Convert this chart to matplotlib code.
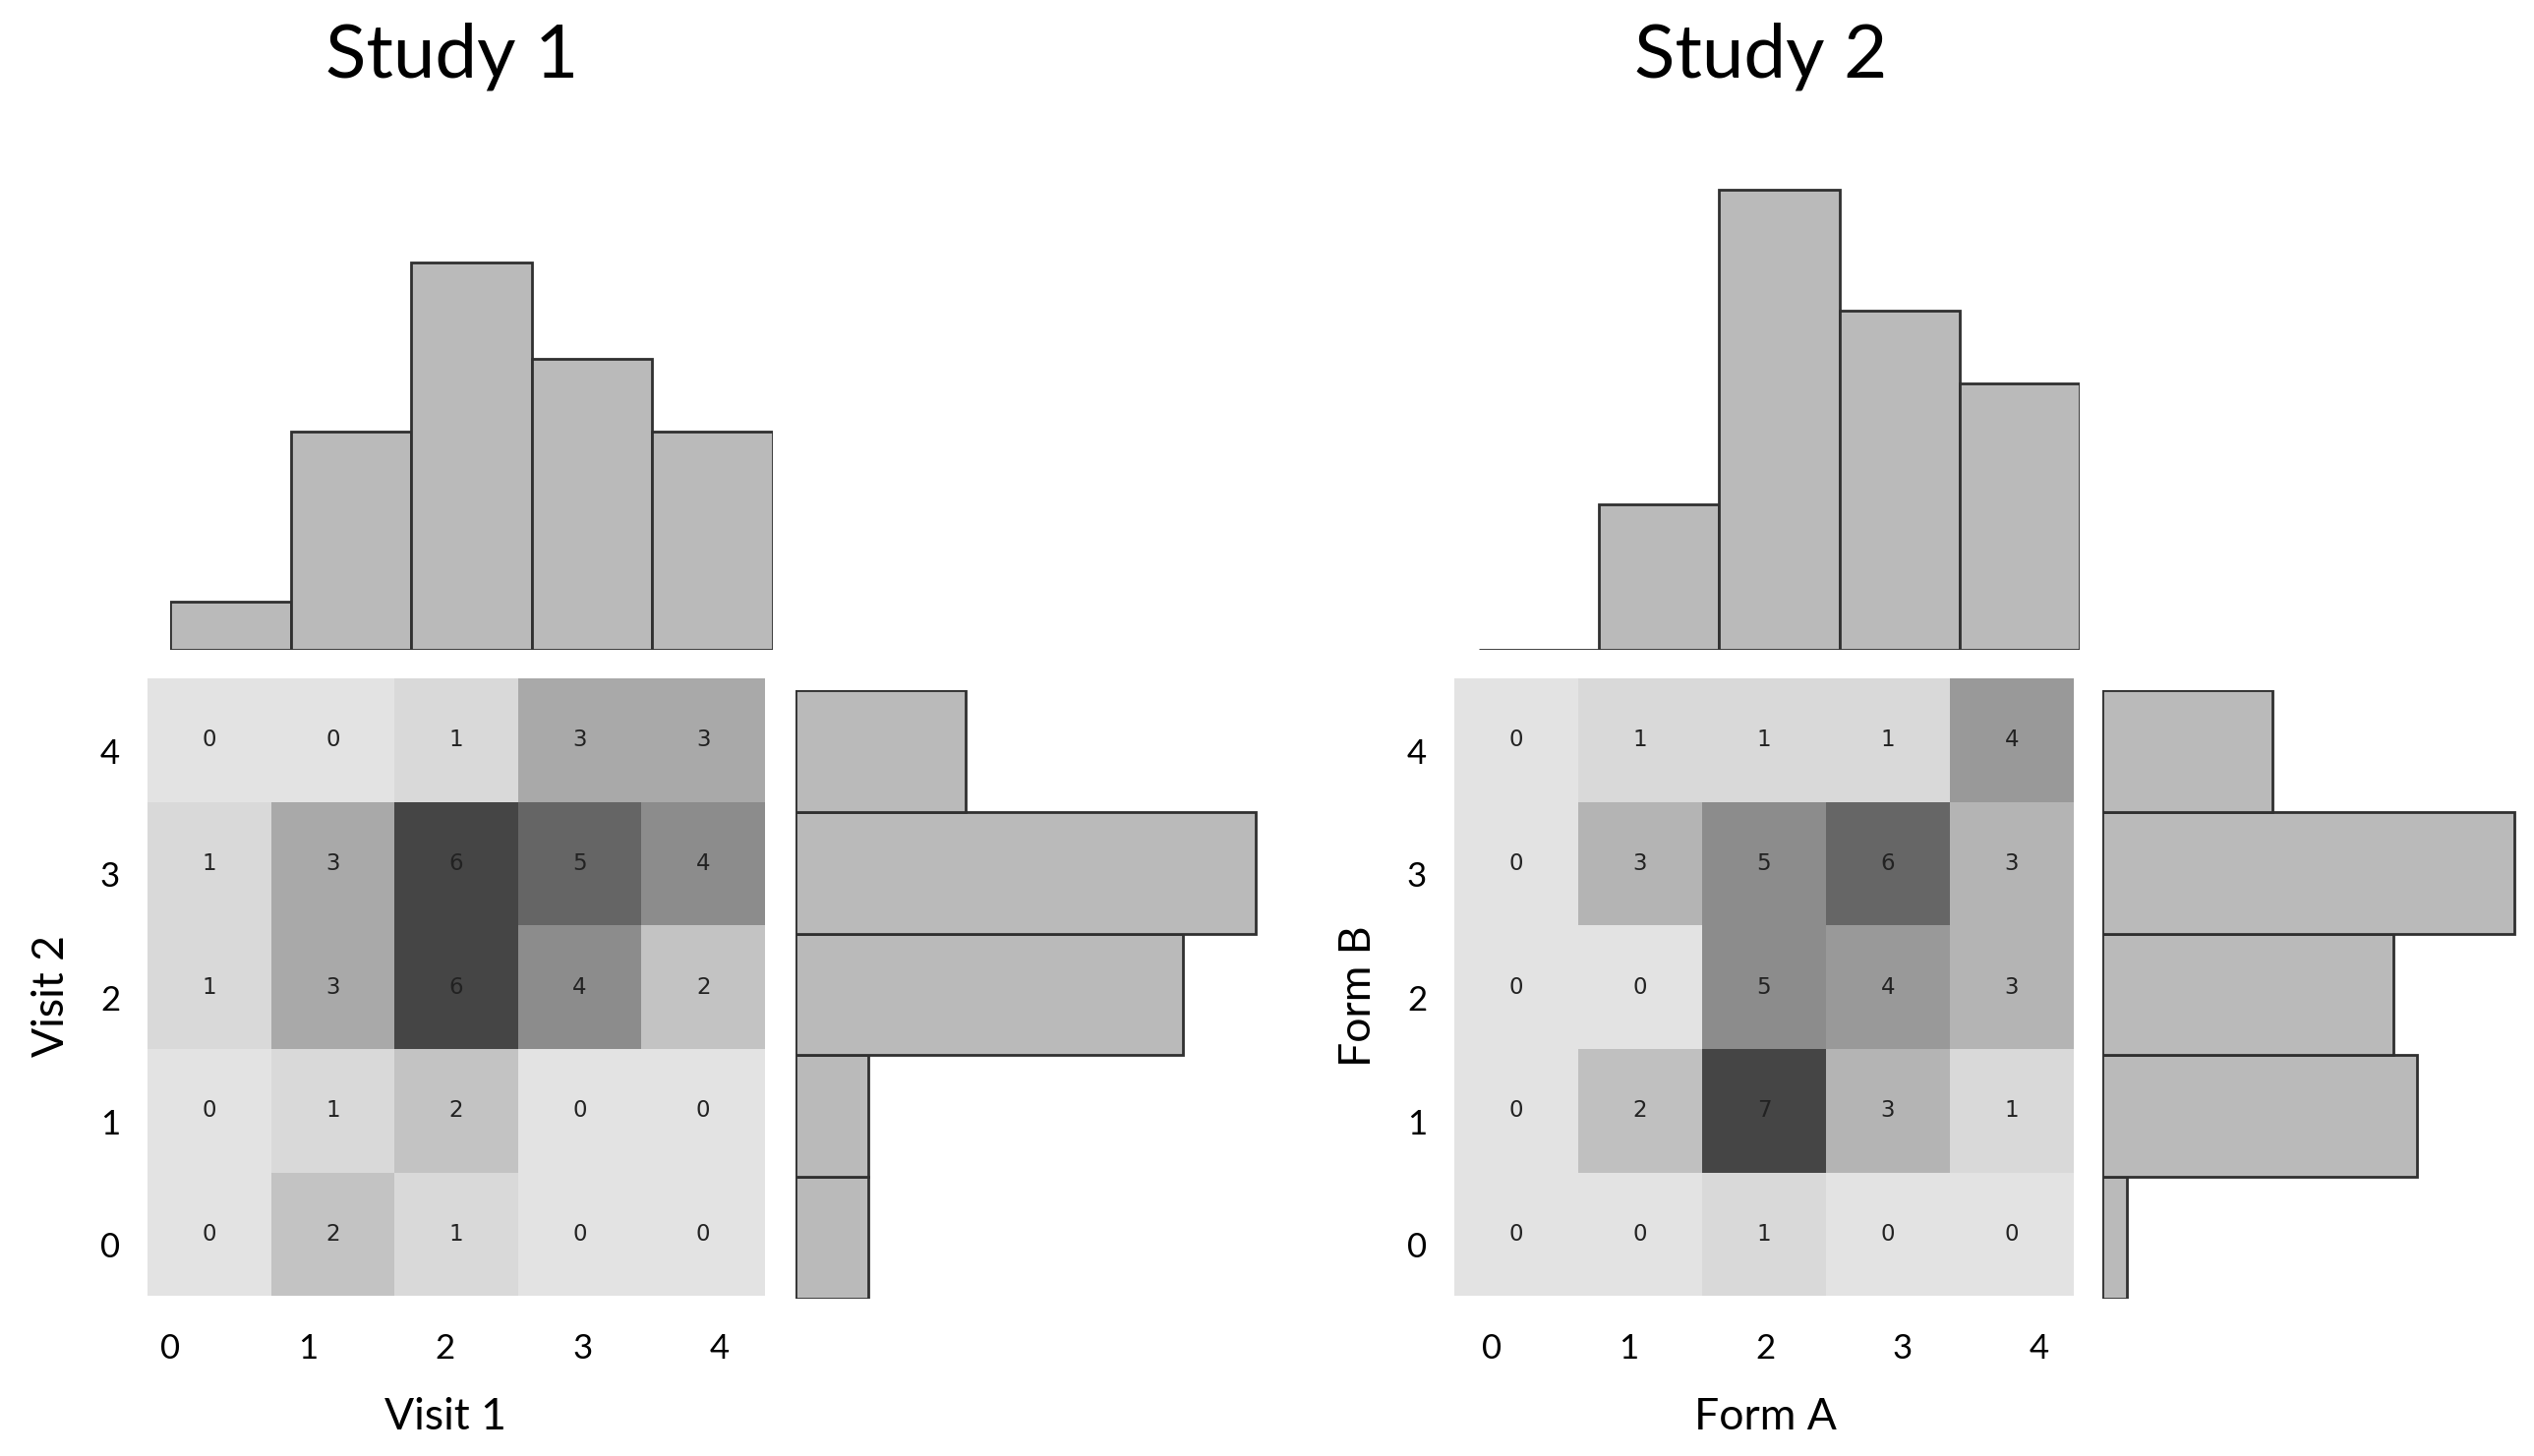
import numpy as np
import matplotlib
matplotlib.use('Agg')
import matplotlib.pyplot as plt
from matplotlib.colors import ListedColormap, BoundaryNorm
from matplotlib.transforms import ScaledTranslation

# counts: rows = second rating (0..4, bottom to top), cols = first rating (0..4)
study1_counts = [
    [0, 2, 1, 0, 0],
    [0, 1, 2, 0, 0],
    [1, 3, 6, 4, 2],
    [1, 3, 6, 5, 4],
    [0, 0, 1, 3, 3],
]
study2_counts = [
    [0, 0, 1, 0, 0],
    [0, 2, 7, 3, 1],
    [0, 0, 5, 4, 3],
    [0, 3, 5, 6, 3],
    [0, 1, 1, 1, 4],
]
scores = [0, 1, 2, 3, 4]
titles = ['Study 1', 'Study 2']
xlabels = ['Visit 1', 'Form A']
ylabels = ['Visit 2', 'Form B']

# grey level per count value (0 = lightest)
greys1 = [227, 217, 195, 169, 140, 101, 69]
greys2 = [227, 217, 192, 180, 153, 140, 102, 69]

W, H = 2577, 1481
FONT = 'Lato'
BAR_FACE = '#bababa'
BAR_EDGE = '#303030'

fig = plt.figure(figsize=(W / 100, H / 100), dpi=100)


def box(x0, y0, x1, y1):
    # pixel box (top-left origin) -> figure fraction rect
    return [x0 / W, 1 - y1 / H, (x1 - x0) / W, (y1 - y0) / H]


# pixel layout of each panel: heatmap, top hist, right hist, tick label span
layouts = [
    dict(heat=(150, 690, 778, 1318), top=(173, 168, 786, 661),
         right=(809, 702, 1302, 1321), ticks=(173, 732), title_x=460),
    dict(heat=(1479, 690, 2109, 1318), top=(1504, 168, 2115, 661),
         right=(2138, 702, 2631, 1321), ticks=(1517, 2074), title_x=1791),
]

for counts, greys, lay, title, xl, yl in zip(
        [study1_counts, study2_counts], [greys1, greys2], layouts,
        titles, xlabels, ylabels):
    m = np.array(counts)
    nmax = len(greys) - 1
    cmap = ListedColormap([(g / 255,) * 3 for g in greys])
    norm = BoundaryNorm(np.arange(-0.5, nmax + 1), cmap.N)

    # heatmap
    ax = fig.add_axes(box(*lay['heat']))
    ax.imshow(m, origin='lower', cmap=cmap, norm=norm,
              extent=(-0.5, 4.5, -0.5, 4.5), aspect='auto')
    for i in range(5):
        for j in range(5):
            ax.text(j, i, str(m[i, j]), ha='center', va='center',
                    fontsize=16.5, family='DejaVu Sans', color='#222222')
    for s in ax.spines.values():
        s.set_visible(False)
    ax.set_xticks([])
    ax.set_yticks(scores)
    ax.set_yticklabels([str(s) for s in scores], family=FONT, fontsize=25)
    ax.tick_params(axis='y', length=0, pad=20)
    shift = ScaledTranslation(0, -0.11, fig.dpi_scale_trans)
    for lbl in ax.get_yticklabels():
        lbl.set_transform(lbl.get_transform() + shift)
    ax.set_ylabel(yl, family=FONT, fontsize=32)
    ax.yaxis.set_label_coords(-0.122, 0.485)

    # x tick labels / label
    x0, x1 = lay['ticks']
    axl = fig.add_axes([x0 / W, 1 - lay['heat'][3] / H, (x1 - x0) / W, 0.0001])
    axl.set_xlim(0, 4)
    axl.set_xticks(scores)
    axl.set_xticklabels([str(s) for s in scores], family=FONT, fontsize=25)
    axl.set_yticks([])
    axl.tick_params(axis='x', length=0, pad=27)
    for s in axl.spines.values():
        s.set_visible(False)
    axl.patch.set_visible(False)
    axl.set_xlabel(xl, family=FONT, fontsize=32, labelpad=24)

    # top histogram (first rating)
    axt = fig.add_axes(box(*lay['top']))
    axt.bar(scores, m.sum(axis=0), width=1, color=BAR_FACE,
            edgecolor=BAR_EDGE, linewidth=2)
    axt.set_xlim(-0.5, 4.5)
    axt.set_ylim(0, 20)
    axt.axis('off')

    # right histogram (second rating)
    axr = fig.add_axes(box(*lay['right']))
    axr.barh(scores, m.sum(axis=1), height=1, color=BAR_FACE,
             edgecolor=BAR_EDGE, linewidth=2)
    axr.set_ylim(-0.5, 4.5)
    axr.set_xlim(0, 20)
    axr.axis('off')

    fig.text(lay['title_x'] / W, 1 - 78 / H, title, ha='center',
             va='baseline', family=FONT, fontsize=55)

fig.savefig('out.png', dpi=100)
